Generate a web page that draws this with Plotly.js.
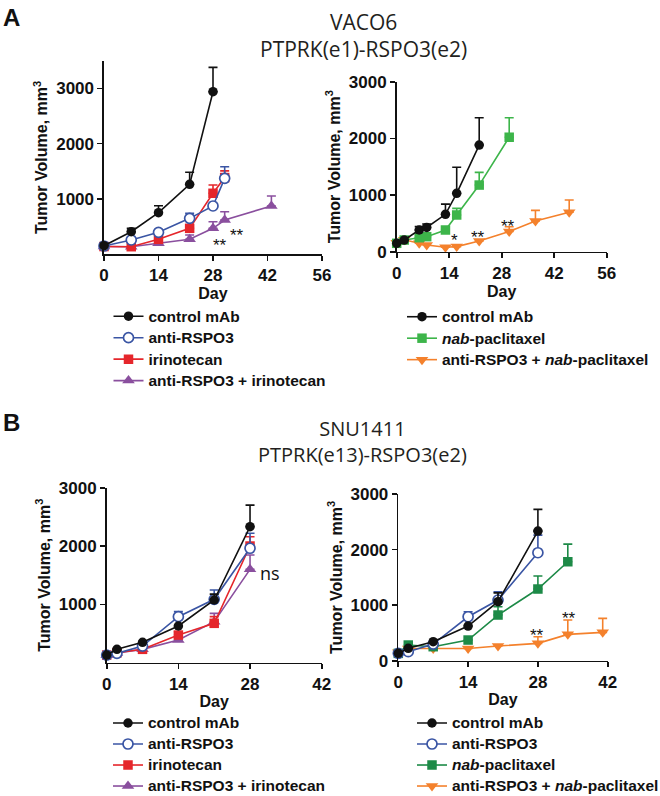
<!DOCTYPE html>
<html>
<head>
<meta charset="utf-8">
<script src="https://cdn.plot.ly/plotly-3.0.1.min.js"></script>
<style>html,body{margin:0;padding:0;background:#fff;}#chart{width:660px;height:796px;}</style>
</head>
<body>
<div id="chart"></div>
<script>
// ---------------- DATA ----------------
// Panel A left: VACO6, irinotecan study
const aL_daysControl = [0, 7, 14, 22, 28];
const aL_control     = [150, 404, 748, 1262, 2940];
const aL_controlErr  = [0, 60, 127, 218, 440];
const aL_daysAnti    = [0, 7, 14, 22, 28, 31];
const aL_anti        = [145, 254, 393, 646, 870, 1371];
const aL_antiErr     = [0, 0, 0, 90, 0, 210];
const aL_daysIrino   = [0, 7, 14, 22, 28, 31];
const aL_irino       = [135, 132, 266, 465, 1100, 1385];
const aL_irinoErr    = [0, 0, 40, 0, 150, 120];
const aL_daysCombo   = [0, 7, 14, 22, 28, 31, 43];
const aL_combo       = [135, 132, 194, 266, 465, 616, 870];
const aL_comboErr    = [0, 0, 30, 78, 120, 150, 181];

// Panel A right: VACO6, nab-paclitaxel study
const aR_daysControl = [0, 2, 6, 8, 13, 16, 22];
const aR_control     = [148, 206, 383, 428, 660, 1030, 1882];
const aR_controlErr  = [0, 0, 60, 60, 180, 460, 481];
const aR_daysNab     = [0, 2, 6, 8, 13, 16, 22, 30];
const aR_nab         = [148, 206, 247, 265, 383, 648, 1176, 2020];
const aR_nabErr      = [0, 0, 0, 0, 0, 117, 224, 343];
const aR_daysCombo   = [0, 2, 6, 8, 13, 16, 22, 30, 37, 46];
const aR_combo       = [160, 210, 148, 118, 78, 90, 189, 358, 541, 695];
const aR_comboErr    = [0, 0, 0, 0, 0, 0, 0, 82, 188, 217];

// Panel B left: SNU1411, irinotecan study
const bL_days        = [0, 2, 7, 14, 21, 28];
const bL_control     = [131, 229, 349, 629, 1075, 2332];
const bL_controlErr  = [0, 0, 0, 0, 100, 370];
const bL_anti        = [131, 160, 285, 789, 1087, 1962];
const bL_antiErr     = [0, 0, 0, 86, 160, 258];
const bL_irino       = [131, 170, 229, 474, 675, 2000];
const bL_irinoErr    = [0, 0, 0, 56, 115, 160];
const bL_combo       = [131, 165, 229, 389, 703, 1600];
const bL_comboErr    = [0, 0, 0, 40, 143, 246];

// Panel B right: SNU1411, nab-paclitaxel study
const bR_days        = [0, 2, 7, 14, 20, 28];
const bR_control     = [132, 223, 342, 624, 1062, 2332];
const bR_controlErr  = [0, 0, 0, 0, 158, 391];
const bR_anti        = [132, 162, 300, 791, 1092, 1943];
const bR_antiErr     = [0, 0, 0, 89, 148, 317];
const bR_daysNab     = [0, 2, 7, 14, 20, 28, 34];
const bR_nab         = [132, 282, 252, 372, 822, 1290, 1781];
const bR_nabErr      = [0, 0, 0, 0, 150, 233, 317];
const bR_daysCombo   = [0, 2, 7, 14, 20, 28, 34, 41];
const bR_combo       = [150, 220, 220, 220, 264, 312, 474, 510];
const bR_comboErr    = [0, 0, 0, 0, 0, 120, 258, 252];

// Significance labels [day, volume, text]
const aL_sig = [[34.2, 330, '**'], [29.8, 150, '**']];
const aR_sig = [[15.5, 200, '*'], [21.7, 250, '**'], [29.7, 450, '**']];
const bL_sig = [[29.6, 1544, 'ns']];
const bR_sig = [[27.8, 450, '**'], [34.2, 760, '**']];

// Labels
const tickDays56 = [0, 14, 28, 42, 56];
const tickDays42 = [0, 14, 28, 42];
const names = {
  control: 'control mAb',
  anti: 'anti-RSPO3',
  irino: 'irinotecan',
  combo: 'anti-RSPO3 + irinotecan',
  nab: '<i>nab</i>-paclitaxel',
  nabCombo: 'anti-RSPO3 + <i>nab</i>-paclitaxel'
};
const titleA = 'VACO6<br>PTPRK(e1)-RSPO3(e2)';
const titleB = 'SNU1411<br>PTPRK(e13)-RSPO3(e2)';
const yTitle = 'Tumor Volume, mm<sup>3</sup>';
const xTitle = 'Day';

// ---------------- STYLE ----------------
const W = 660, H = 796;
const px = p => p / W;
const py = p => 1 - p / H;
const C = {
  black: '#111111', blue: '#3a55a4', red: '#e5262b', purple: '#8a4f9e',
  greenA: '#3db54a', greenB: '#1d8a47', orange: '#f4812c'
};
const FONT = 'Arial, "Liberation Sans", sans-serif';
const TFONT = '"Open Sans", "Noto Sans", sans-serif';
const legendLabel = t => '<span style="font-size:15.5px">' + t + '</span>';

function series(x, y, err, name, color, symbol, xa, ya, legend, rank, open) {
  const isTri = symbol.indexOf('triangle') === 0;
  return {
    type: 'scatter', mode: 'lines+markers', x: x, y: y, name: legendLabel(name),
    xaxis: xa, yaxis: ya, legend: legend, legendrank: rank, cliponaxis: false,
    line: {color: color, width: 1.6},
    marker: {symbol: symbol, size: isTri ? 11 : (open ? 10 : 9.5),
             color: open ? '#ffffff' : color,
             line: {color: color, width: open ? 1.7 : 0}},
    error_y: {type: 'data', symmetric: false, array: err,
              arrayminus: err.map(() => 0), color: color, thickness: 1.6, width: 4.5}
  };
}

const traces = [
  // A left (draw order: combo, irino, anti, control)
  series(aL_daysCombo, aL_combo, aL_comboErr, names.combo, C.purple, 'triangle-up', 'x', 'y', 'legend', 4),
  series(aL_daysIrino, aL_irino, aL_irinoErr, names.irino, C.red, 'square', 'x', 'y', 'legend', 3),
  series(aL_daysAnti, aL_anti, aL_antiErr, names.anti, C.blue, 'circle', 'x', 'y', 'legend', 2, true),
  series(aL_daysControl, aL_control, aL_controlErr, names.control, C.black, 'circle', 'x', 'y', 'legend', 1),
  // A right
  series(aR_daysCombo, aR_combo, aR_comboErr, names.nabCombo, C.orange, 'triangle-down', 'x2', 'y2', 'legend2', 3),
  series(aR_daysNab, aR_nab, aR_nabErr, names.nab, C.greenA, 'square', 'x2', 'y2', 'legend2', 2),
  series(aR_daysControl, aR_control, aR_controlErr, names.control, C.black, 'circle', 'x2', 'y2', 'legend2', 1),
  // B left
  series(bL_days, bL_combo, bL_comboErr, names.combo, C.purple, 'triangle-up', 'x3', 'y3', 'legend3', 4),
  series(bL_days, bL_irino, bL_irinoErr, names.irino, C.red, 'square', 'x3', 'y3', 'legend3', 3),
  series(bL_days, bL_anti, bL_antiErr, names.anti, C.blue, 'circle', 'x3', 'y3', 'legend3', 2, true),
  series(bL_days, bL_control, bL_controlErr, names.control, C.black, 'circle', 'x3', 'y3', 'legend3', 1),
  // B right
  series(bR_daysCombo, bR_combo, bR_comboErr, names.nabCombo, C.orange, 'triangle-down', 'x4', 'y4', 'legend4', 4),
  series(bR_daysNab, bR_nab, bR_nabErr, names.nab, C.greenB, 'square', 'x4', 'y4', 'legend4', 3),
  series(bR_days, bR_anti, bR_antiErr, names.anti, C.blue, 'circle', 'x4', 'y4', 'legend4', 2, true),
  series(bR_days, bR_control, bR_controlErr, names.control, C.black, 'circle', 'x4', 'y4', 'legend4', 1)
];

const tickFont = {family: FONT, size: 17, color: '#111', weight: 'bold'};
function xAxis(left, right, range, ticks, anchor) {
  return {
    domain: [px(left), px(right)], range: range, anchor: anchor,
    tickvals: ticks, ticktext: ticks.map(String),
    showline: true, linecolor: '#111', linewidth: 1.6,
    ticks: 'outside', ticklen: 5, tickwidth: 1.6, tickcolor: '#111',
    showgrid: false, zeroline: false, tickfont: tickFont,
    title: {text: xTitle, standoff: 3, font: {family: FONT, size: 16, color: '#111', weight: 'bold'}}
  };
}
function yAxis(bottom, top, range, ticks, anchor) {
  return {
    domain: [py(bottom), py(top)], range: range, anchor: anchor,
    tickvals: ticks, ticktext: ticks.map(String),
    showline: true, linecolor: '#111', linewidth: 1.6,
    ticks: 'outside', ticklen: 5, tickwidth: 1.6, tickcolor: '#111',
    showgrid: false, zeroline: false, tickfont: tickFont,
    title: {text: yTitle, standoff: 4, font: {family: FONT, size: 16, color: '#111', weight: 'bold'}}
  };
}

function legendAt(left, top, baseSize) {
  return {
    x: px(left), y: py(top), xref: 'paper', yref: 'paper', xanchor: 'left', yanchor: 'top',
    bgcolor: 'rgba(0,0,0,0)', borderwidth: 0, traceorder: 'normal',
    font: {family: FONT, size: baseSize, color: '#111', weight: 'bold'}, itemwidth: 30
  };
}

function sigAnn(list, xa, ya, size, fam, xanchor) {
  return list.map(s => ({
    x: s[0], y: s[1], xref: xa, yref: ya, text: s[2], showarrow: false,
    xanchor: xanchor || 'center', yanchor: 'middle',
    font: {family: fam || FONT, size: size, color: '#111'}
  }));
}

const annotations = [
  {text: 'A', x: px(1), y: py(2), xref: 'paper', yref: 'paper', xanchor: 'left', yanchor: 'top', showarrow: false,
   font: {family: FONT, size: 24, color: '#111', weight: 'bold'}},
  {text: 'B', x: px(1), y: py(407), xref: 'paper', yref: 'paper', xanchor: 'left', yanchor: 'top', showarrow: false,
   font: {family: FONT, size: 24, color: '#111', weight: 'bold'}},
  {text: titleA, x: px(363), y: py(35.5), xref: 'paper', yref: 'paper', xanchor: 'center', yanchor: 'middle', showarrow: false,
   font: {family: TFONT, size: 21, color: '#231f20'}},
  {text: titleB, x: px(362), y: py(441), xref: 'paper', yref: 'paper', xanchor: 'center', yanchor: 'middle', showarrow: false,
   font: {family: TFONT, size: 20, color: '#231f20'}}
].concat(
  sigAnn(aL_sig, 'x', 'y', 17),
  sigAnn(aR_sig, 'x2', 'y2', 17),
  sigAnn(bL_sig, 'x3', 'y3', 18, TFONT, 'left'),
  sigAnn(bR_sig, 'x4', 'y4', 17)
);

const layout = {
  width: W, height: H, margin: {l: 0, r: 0, t: 0, b: 0, autoexpand: false},
  paper_bgcolor: '#ffffff', plot_bgcolor: 'rgba(0,0,0,0)',
  font: {family: FONT, color: '#111'},
  showlegend: true,
  xaxis:  xAxis(104, 322, [0, 56], tickDays56, 'y'),
  yaxis:  yAxis(254, 60.8, [0, 3500], [1000, 2000, 3000], 'x'),
  xaxis2: xAxis(396.7, 606.7, [0, 56], tickDays56, 'y2'),
  yaxis2: yAxis(251.7, 81.7, [0, 3000], [0, 1000, 2000, 3000], 'x2'),
  xaxis3: xAxis(106.7, 321.7, [0, 42], tickDays42, 'y3'),
  yaxis3: yAxis(662.7, 487.7, [0, 3000], [1000, 2000, 3000], 'x3'),
  xaxis4: xAxis(398.3, 607.7, [0, 42], tickDays42, 'y4'),
  yaxis4: yAxis(660.7, 494, [0, 3000], [0, 1000, 2000, 3000], 'x4'),
  legend:  legendAt(108.5, 300.5, 14.2),
  legend2: legendAt(402, 301, 14.2),
  legend3: legendAt(108, 707.5, 13.85),
  legend4: legendAt(412, 707.5, 13.85),
  annotations: annotations
};

Plotly.newPlot('chart', traces, layout, {staticPlot: true, displayModeBar: false});
</script>
</body>
</html>
